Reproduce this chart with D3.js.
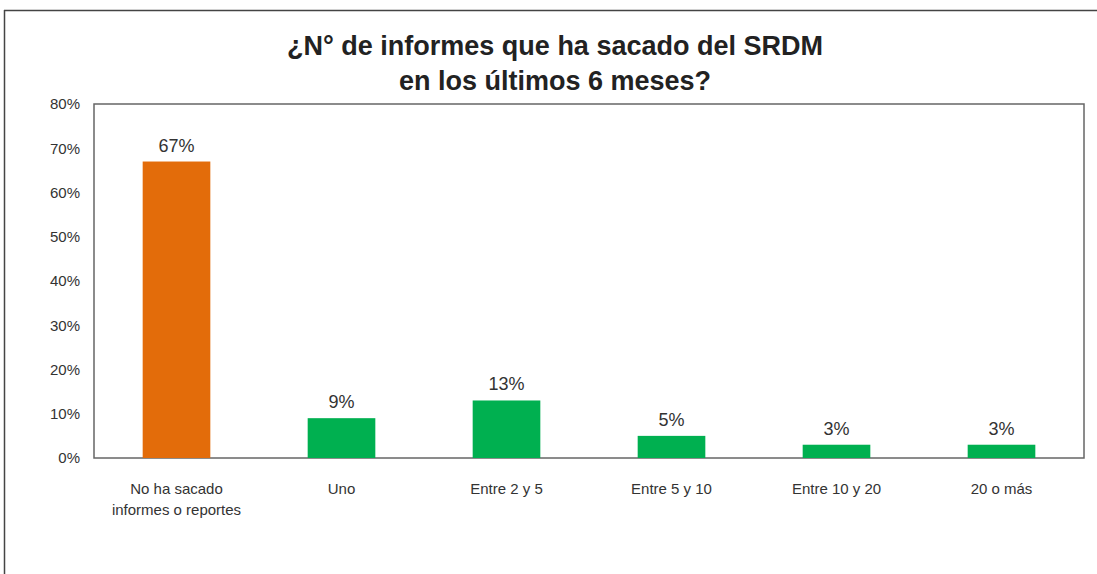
<!DOCTYPE html>
<html>
<head>
<meta charset="utf-8">
<script src="https://d3js.org/d3.v7.min.js"></script>
<style>
  body { margin: 0; background: #fff; }
  svg text { font-family: "Liberation Sans Narrow", "Liberation Sans", sans-serif; }
</style>
</head>
<body>
<div id="chart"></div>
<script>
var width = 1097,
  height = 574;

// data
var categories = [['No ha sacado', 'informes o reportes'], ['Uno'], ['Entre 2 y 5'], ['Entre 5 y 10'], ['Entre 10 y 20'], ['20 o más']];
var values = [67, 9, 13, 5, 3, 3];
var barColors = ['#E36C0A', '#00B050', '#00B050', '#00B050', '#00B050', '#00B050'];
var yTicks = [0, 10, 20, 30, 40, 50, 60, 70, 80];
var titleLines = ['¿N° de informes que ha sacado del SRDM', 'en los últimos 6 meses?'];

var margin = {top: 104, right: 13, bottom: 116, left: 94};

var svg = d3.select('#chart')
  .append('svg')
  .attr('width', width)
  .attr('height', height);

// outer frame (top and left edges visible)
svg.append('line')
  .attr('x1', 4).attr('x2', width)
  .attr('y1', 10.5).attr('y2', 10.5)
  .attr('stroke', '#444').attr('stroke-width', 1.5);
svg.append('line')
  .attr('x1', 4.5).attr('x2', 4.5)
  .attr('y1', 10).attr('y2', height)
  .attr('stroke', '#444').attr('stroke-width', 1.5);

// title
svg.append('g')
  .selectAll('text')
  .data(titleLines)
  .join('text')
  .attr('x', 555)
  .attr('y', (d, i) => 55 + i * 35)
  .attr('text-anchor', 'middle')
  .attr('font-size', 27)
  .attr('font-weight', 'bold')
  .attr('fill', '#222')
  .text(d => d);

var x = d3.scaleBand()
  .domain(d3.range(values.length))
  .range([margin.left, width - margin.right])
  .paddingInner(0.59)
  .paddingOuter(0.295);

var y = d3.scaleLinear()
  .domain([0, 80])
  .range([height - margin.bottom, margin.top]);

// plot area border
svg.append('rect')
  .attr('x', margin.left)
  .attr('y', margin.top)
  .attr('width', width - margin.right - margin.left)
  .attr('height', height - margin.bottom - margin.top)
  .attr('fill', 'none')
  .attr('stroke', '#666')
  .attr('stroke-width', 1.5);

// y axis
var yAxis = svg.append('g')
  .attr('transform', 'translate(' + margin.left + ',0)')
  .call(d3.axisLeft(y).tickValues(yTicks).tickFormat(d => d + '%').tickSize(0).tickPadding(14));
yAxis.select('.domain').remove();
yAxis.selectAll('text')
  .attr('font-size', 15)
  .attr('fill', '#333')
  .style('font-family', '"Liberation Sans Narrow", "Liberation Sans", sans-serif');

// bars
svg.append('g')
  .selectAll('rect')
  .data(values)
  .join('rect')
  .attr('x', (d, i) => x(i))
  .attr('y', d => y(d))
  .attr('width', x.bandwidth())
  .attr('height', d => y(0) - y(d))
  .attr('fill', (d, i) => barColors[i]);

// data labels
svg.append('g')
  .selectAll('text')
  .data(values)
  .join('text')
  .attr('x', (d, i) => x(i) + x.bandwidth() / 2)
  .attr('y', d => y(d) - 10)
  .attr('text-anchor', 'middle')
  .attr('font-size', 18)
  .attr('fill', '#333')
  .text(d => d + '%');

// category labels
var cat = svg.append('g')
  .selectAll('text')
  .data(categories)
  .join('text')
  .attr('x', (d, i) => x(i) + x.bandwidth() / 2)
  .attr('y', 494)
  .attr('text-anchor', 'middle')
  .attr('font-size', 15)
  .attr('fill', '#333');
cat.selectAll('tspan')
  .data(d => d)
  .join('tspan')
  .attr('x', function() { return d3.select(this.parentNode).attr('x'); })
  .attr('dy', (d, i) => i === 0 ? 0 : 21)
  .text(d => d);
</script>
</body>
</html>
